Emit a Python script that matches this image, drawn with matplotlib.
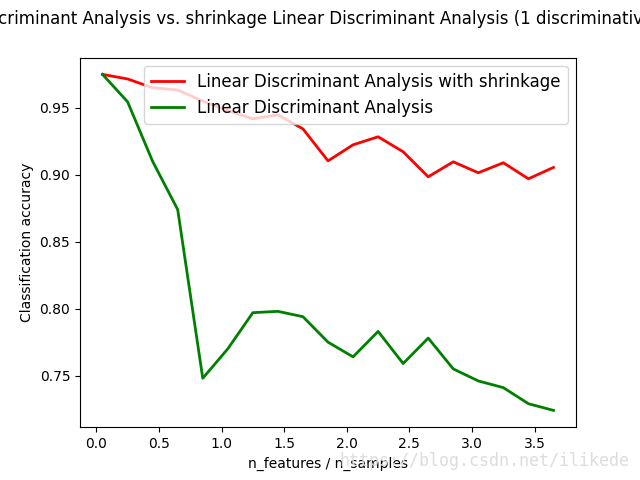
import matplotlib
matplotlib.use("Agg")
import matplotlib.pyplot as plt

ratios = [0.05, 0.25, 0.45, 0.65, 0.85, 1.05, 1.25, 1.45, 1.65, 1.85,
          2.05, 2.25, 2.45, 2.65, 2.85, 3.05, 3.25, 3.45, 3.65]
acc_shrink = [0.975, 0.9716, 0.965, 0.9634, 0.955, 0.948, 0.9418, 0.9448, 0.9343, 0.9104,
              0.9224, 0.9284, 0.9172, 0.8985, 0.9097, 0.9015, 0.909, 0.897, 0.9055]
acc_plain = [0.975, 0.9545, 0.910, 0.874, 0.748, 0.770, 0.797, 0.798, 0.794, 0.775,
             0.764, 0.783, 0.759, 0.778, 0.755, 0.746, 0.741, 0.729, 0.724]

fig = plt.figure(figsize=(6.4, 4.8), dpi=100)
plt.plot(ratios, acc_shrink, linewidth=2, label="Linear Discriminant Analysis with shrinkage", color='r')
plt.plot(ratios, acc_plain, linewidth=2, label="Linear Discriminant Analysis", color='g')
plt.xlabel('n_features / n_samples')
plt.ylabel('Classification accuracy')
plt.legend(loc=1, prop={'size': 12})
plt.suptitle('Linear Discriminant Analysis vs. shrinkage Linear Discriminant Analysis (1 discriminative feature)')
fig.text(0.53, 0.03, 'https://blog.csdn.net/ilikede', color='#dddddd', fontsize=12,
         family='DejaVu Sans Mono')
plt.savefig('out.png')
